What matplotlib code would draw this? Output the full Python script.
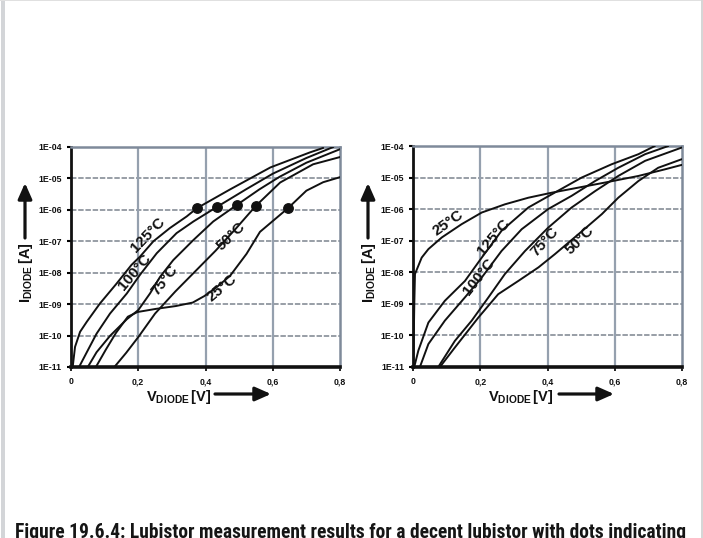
import matplotlib
matplotlib.use("Agg")
import matplotlib.pyplot as plt
import numpy as np
from matplotlib import font_manager
from matplotlib.font_manager import FontProperties
from matplotlib.textpath import TextPath
from matplotlib.patches import Rectangle, FancyArrowPatch
from matplotlib.ticker import FixedLocator, NullLocator

# ---------------- data (log10 of I_DIODE [A] vs V_DIODE [V]) ----------------
# Left panel
L125_v = [0.005, 0.012, 0.027, 0.047, 0.086, 0.136, 0.180, 0.205, 0.245, 0.294, 0.344, 0.374, 0.473, 0.593, 0.711, 0.75]
L125_logI = [-11, -10.36, -9.88, -9.56, -8.98, -8.34, -7.75, -7.49, -7.0, -6.58, -6.21, -5.95, -5.35, -4.65, -4.17, -4.03]
L100_v = [0.024, 0.047, 0.076, 0.116, 0.166, 0.205, 0.255, 0.314, 0.364, 0.435, 0.52, 0.6, 0.7, 0.78]
L100_logI = [-11, -10.53, -9.94, -9.3, -8.66, -8.07, -7.38, -6.74, -6.37, -5.9, -5.35, -4.85, -4.35, -4.0]
L75_v = [0.05, 0.076, 0.116, 0.166, 0.2, 0.235, 0.265, 0.304, 0.364, 0.423, 0.495, 0.56, 0.62, 0.7, 0.8]
L75_logI = [-11, -10.53, -10.01, -9.48, -9.19, -8.66, -8.13, -7.6, -6.96, -6.37, -5.83, -5.35, -4.95, -4.5, -4.07]
L50_v = [0.129, 0.164, 0.2, 0.25, 0.31, 0.37, 0.43, 0.49, 0.549, 0.622, 0.72, 0.8]
L50_logI = [-11, -10.55, -10.05, -9.3, -8.6, -7.95, -7.3, -6.6, -5.88, -5.13, -4.55, -4.32]
L25_v = [0.074, 0.104, 0.134, 0.169, 0.198, 0.253, 0.312, 0.362, 0.397, 0.431, 0.473, 0.522, 0.562, 0.646, 0.70, 0.75, 0.8]
L25_logI = [-11, -10.44, -9.91, -9.40, -9.25, -9.15, -9.06, -8.95, -8.74, -8.48, -8.1, -7.4, -6.7, -5.94, -5.39, -5.12, -4.96]
dots_v = [0.374, 0.435, 0.495, 0.549, 0.646]
dots_logI = [-5.95, -5.90, -5.84, -5.89, -5.94]

# Right panel
R25_v = [0.0, 0.003, 0.005, 0.025, 0.045, 0.085, 0.144, 0.204, 0.273, 0.343, 0.413, 0.492, 0.571, 0.671, 0.75, 0.8]
R25_logI = [-11, -9.0, -8.06, -7.54, -7.27, -6.9, -6.48, -6.11, -5.85, -5.64, -5.48, -5.32, -5.16, -4.95, -4.74, -4.6]
R125_v = [0.003, 0.015, 0.045, 0.094, 0.154, 0.204, 0.263, 0.343, 0.413, 0.502, 0.591, 0.671, 0.72]
R125_logI = [-11, -10.49, -9.6, -8.91, -8.28, -7.54, -6.69, -5.95, -5.53, -5.0, -4.58, -4.26, -4.0]
R100_v = [0.02, 0.045, 0.094, 0.154, 0.204, 0.263, 0.323, 0.402, 0.472, 0.542, 0.611, 0.691, 0.76]
R100_logI = [-11, -10.28, -9.54, -8.8, -8.17, -7.33, -6.64, -6.0, -5.58, -5.11, -4.69, -4.26, -4.0]
R75_v = [0.075, 0.124, 0.174, 0.224, 0.273, 0.333, 0.402, 0.472, 0.542, 0.611, 0.691, 0.8]
R75_logI = [-11, -10.18, -9.54, -8.8, -8.06, -7.33, -6.59, -5.95, -5.43, -4.95, -4.47, -4.05]
R50_v = [0.08, 0.124, 0.194, 0.253, 0.313, 0.373, 0.422, 0.492, 0.562, 0.611, 0.671, 0.73, 0.8]
R50_logI = [-11, -10.39, -9.44, -8.7, -8.28, -7.85, -7.43, -6.8, -6.16, -5.64, -5.11, -4.69, -4.42]

x_ticks = [0, 0.2, 0.4, 0.6, 0.8]
x_tick_labels = ["0", "0,2", "0,4", "0,6", "0,8"]
y_decades = [-11, -10, -9, -8, -7, -6, -5, -4]
y_tick_labels = ["1E-11", "1E-10", "1E-09", "1E-08", "1E-07", "1E-06", "1E-05", "1E-04"]

left_labels = ["125°C", "100°C", "75°C", "50°C", "25°C"]
left_label_v = [0.228, 0.19, 0.28, 0.475, 0.448]
left_label_logI = [-6.80, -7.97, -8.23, -6.85, -8.5]
left_label_rot = [46, 50, 52, 44, 40]
right_labels = ["25°C", "125°C", "100°C", "75°C", "50°C"]
right_label_v = [0.104, 0.24, 0.196, 0.393, 0.497]
right_label_logI = [-6.45, -6.9, -8.15, -7.03, -6.98]
right_label_rot = [35, 50, 52, 48, 45]

caption = "Figure 19.6.4: Lubistor measurement results for a decent lubistor with dots indicating"

# ---------------- styling ----------------
W, H = 703, 538
names = {f.name for f in font_manager.fontManager.ttflist}
base_family = "Liberation Sans" if "Liberation Sans" in names else "DejaVu Sans"
plt.rcParams["font.family"] = [base_family, "DejaVu Sans"]
plt.rcParams["mathtext.fontset"] = "custom"
plt.rcParams["mathtext.rm"] = base_family + ":bold"
plt.rcParams["mathtext.bf"] = base_family + ":bold"
plt.rcParams["mathtext.it"] = base_family + ":bold"


def _weight(f):
    w = f.weight
    if isinstance(w, (int, float)):
        return int(w)
    return {"bold": 700, "heavy": 800, "black": 900, "extra bold": 800,
            "semibold": 600, "demibold": 600, "demi": 600}.get(str(w).lower(), 400)


def find_condensed_bold():
    prefs = ["liberation sans narrow", "roboto condensed", "open sans condensed",
             "noto sans condensed", "dejavu sans condensed", "noto sans", "open sans",
             "dejavu sans", "roboto"]
    best, best_score = None, None
    for f in font_manager.fontManager.ttflist:
        n = f.name.lower()
        fn = f.fname.lower().replace("\\", "/").split("/")[-1]
        if "mono" in n or "mono" in fn or ("serif" in n and "sans" not in n):
            continue
        if "italic" in fn or "oblique" in fn or str(f.style) != "normal":
            continue
        cond = ("narrow" in n or "narrow" in fn or "condensed" in n or "condensed" in fn
                or str(f.stretch) in ("condensed", "semi-condensed", "extra-condensed"))
        if not cond or "extracondensed" in fn or "extra-condensed" in str(f.stretch):
            continue
        if "semicondensed" in fn or "semi-condensed" in str(f.stretch):
            continue
        w = _weight(f)
        if w < 600 or w > 800:
            continue
        key = n + " " + fn
        rank = len(prefs)
        for i, p in enumerate(prefs):
            if p.split()[0] in key:
                rank = i
                break
        score = (rank, abs(w - 700))
        if best_score is None or score < best_score:
            best, best_score = f, score
    return best


fig = plt.figure(figsize=(W / 100, H / 100), dpi=100)
fig.patch.set_facecolor("white")


def fx(px):
    return px / W


def fy(py):
    return 1 - py / H


def setup_axes(ax):
    ax.set_yscale("log")
    ax.set_xlim(0, 0.8)
    ax.set_ylim(1e-11, 1e-4)
    ax.yaxis.set_major_locator(FixedLocator([10.0 ** d for d in y_decades]))
    ax.yaxis.set_minor_locator(NullLocator())
    ax.set_yticklabels(y_tick_labels)
    ax.set_xticks(x_ticks)
    ax.set_xticklabels(x_tick_labels)
    for lab in ax.get_xticklabels() + ax.get_yticklabels():
        lab.set_fontsize(6.3)
        lab.set_fontweight("bold")
        lab.set_color("#111111")
    ax.tick_params(axis="y", direction="out", length=3, width=1.5, pad=3.5, color="black")
    ax.tick_params(axis="x", direction="out", length=3, width=1.2, pad=4.5, color="black")
    for d in y_decades[1:-1]:
        ax.axhline(10.0 ** d, color="#90969f", lw=1.3, ls=(0, (3, 1)), zorder=1)
    for v in x_ticks[1:-1]:
        ax.axvline(v, color="#95a0ae", lw=1.6, zorder=1)
    ax.spines["left"].set_linewidth(2.0)
    ax.spines["left"].set_color("#111111")
    ax.spines["bottom"].set_linewidth(2.6)
    ax.spines["bottom"].set_color("#111111")
    for s in ("top", "right"):
        ax.spines[s].set_linewidth(1.8)
        ax.spines[s].set_color("#7f8a9a")


def curve(ax, v, logI):
    ax.plot(v, 10.0 ** np.array(logI), color="#111111", lw=1.4, zorder=3,
            solid_joinstyle="round", solid_capstyle="round")


# Left axes
axL = fig.add_axes([fx(71), 1 - 367 / H, (340 - 71) / W, (367 - 147) / H])
setup_axes(axL)
for v, li in [(L125_v, L125_logI), (L100_v, L100_logI), (L75_v, L75_logI),
              (L50_v, L50_logI), (L25_v, L25_logI)]:
    curve(axL, v, li)
axL.plot(dots_v, 10.0 ** np.array(dots_logI), "o", color="#111111", ms=6.8, zorder=4)
for t, v, li, r in zip(left_labels, left_label_v, left_label_logI, left_label_rot):
    axL.text(v, 10.0 ** li, t, rotation=r, rotation_mode="anchor", ha="center",
             va="center", fontsize=11, fontweight="bold", color="#111111", zorder=5)

# Right axes
axR = fig.add_axes([fx(413.3), 1 - 366.7 / H, (681.7 - 413.3) / W, (366.7 - 146) / H])
setup_axes(axR)
for v, li in [(R25_v, R25_logI), (R125_v, R125_logI), (R100_v, R100_logI),
              (R75_v, R75_logI), (R50_v, R50_logI)]:
    curve(axR, v, li)
for t, v, li, r in zip(right_labels, right_label_v, right_label_logI, right_label_rot):
    axR.text(v, 10.0 ** li, t, rotation=r, rotation_mode="anchor", ha="center",
             va="center", fontsize=11, fontweight="bold", color="#111111", zorder=5)

# Axis titles with arrows
xlab = r"$\mathbf{V}_{\mathbf{DIODE}}\,\mathbf{[V]}$"
ylab = r"$\mathbf{I}_{\mathbf{DIODE}}\,\mathbf{[A]}$"
arrow_style = "-|>,head_length=0.95,head_width=0.42"
for (xc, yc, ax0, ax1, ay) in [(179, 397.5, 215, 271, 394), (521, 397.5, 559, 614, 394)]:
    fig.text(fx(xc), fy(yc), xlab, fontsize=10.5, ha="center", va="center", color="#111111")
    fig.add_artist(FancyArrowPatch((fx(ax0), fy(ay)), (fx(ax1), fy(ay)),
                                   transform=fig.transFigure, arrowstyle=arrow_style,
                                   mutation_scale=10, lw=2.3, color="#111111",
                                   shrinkA=0, shrinkB=0))
for (xc, yc, axx, ay0, ay1) in [(26, 273, 25, 238, 183), (369, 273, 368, 238, 183)]:
    fig.text(fx(xc), fy(yc), ylab, fontsize=10.5, ha="center", va="center",
             rotation=90, color="#111111")
    fig.add_artist(FancyArrowPatch((fx(axx), fy(ay0)), (fx(axx), fy(ay1)),
                                   transform=fig.transFigure, arrowstyle=arrow_style,
                                   mutation_scale=10, lw=2.3, color="#111111",
                                   shrinkA=0, shrinkB=0))

# Page border decorations
fig.add_artist(Rectangle((fx(1), 0), fx(4), 1, transform=fig.transFigure,
                         facecolor="#d3d5d8", edgecolor="none", zorder=0))
fig.add_artist(Rectangle((0, fy(1.2)), 1, 1.2 / H, transform=fig.transFigure,
                         facecolor="#e0e0e0", edgecolor="none", zorder=0))
fig.add_artist(Rectangle((fx(700.8), 0), fx(2.2), 1, transform=fig.transFigure,
                         facecolor="#d6d6d6", edgecolor="none", zorder=0))

# Caption, fitted to its width in the reference
cf = find_condensed_bold()
if cf is not None:
    cap_fp = FontProperties(fname=cf.fname, size=14)
else:
    cap_fp = FontProperties(family=base_family, weight="bold", size=14)
cap = fig.text(fx(15), 0, caption, fontproperties=cap_fp, color="#151515",
               ha="left", va="baseline")
fig.canvas.draw()
r = fig.canvas.get_renderer()
wpx = cap.get_window_extent(r).width
fs = 14 * 675.0 / wpx
cap.set_fontsize(fs)
fs_px = fs * 100 / 72
tp = TextPath((0, 0), "F", prop=FontProperties(fname=cf.fname) if cf is not None
              else FontProperties(family=base_family, weight="bold"), size=100)
cap_ratio = tp.vertices[:, 1].max() / 100.0
baseline_img = 524.5 + cap_ratio * fs_px
cap.set_position((fx(15), fy(baseline_img)))

fig.savefig("out.png", dpi=100, facecolor="white")
